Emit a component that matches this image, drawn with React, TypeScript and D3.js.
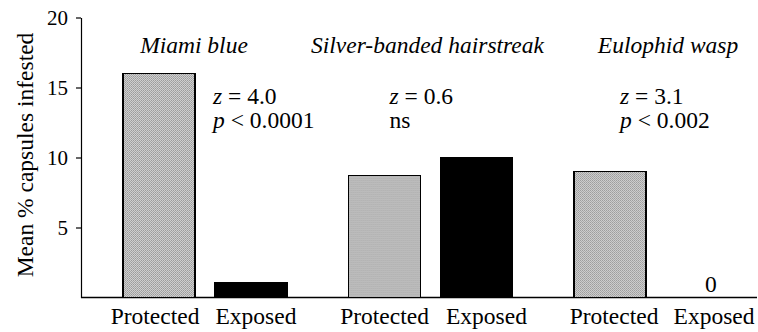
import { useEffect, useRef } from "react";
import * as d3 from "d3";

const species = ["Miami blue", "Silver-banded hairstreak", "Eulophid wasp"];
const treatments = ["Protected", "Exposed"];
const protectedVals = [16.0, 8.7, 9.0];
const exposedVals = [1.1, 10.0, 0];
const zStats = ["z = 4.0", "z = 0.6", "z = 3.1"];
const pStats = ["p < 0.0001", "ns", "p < 0.002"];
const yTicks = [5, 10, 15, 20];

// hand placement of the text, relative to each group / bar
const statOffset = [90, 41, 46];
const titleShift = [-11, -3, 12];
const labelShift = [
  [-4, 5],
  [0, 10],
  [4, 12],
];

export default function App() {
  const svgRef = useRef<SVGSVGElement>(null);

  useEffect(() => {
    const svg = d3.select(svgRef.current);
    svg.selectAll("*").remove();

    const W = 758;
    const H = 332;
    const axisX = 81;
    const fs = 23.5;
    const font = '"Liberation Serif", "DejaVu Serif", "Times New Roman", serif';

    svg.attr("width", W).attr("height", H).style("font-family", font);

    // stipple fill
    const defs = svg.append("defs");
    const pat = defs
      .append("pattern")
      .attr("id", "stipple")
      .attr("width", 2)
      .attr("height", 2)
      .attr("patternUnits", "userSpaceOnUse");
    pat.append("rect").attr("width", 2).attr("height", 2).attr("fill", "#cfcfcf");
    pat.append("rect").attr("width", 1).attr("height", 1).attr("fill", "#9c9c9c");
    pat.append("rect").attr("x", 1).attr("y", 1).attr("width", 1).attr("height", 1).attr("fill", "#a8a8a8");

    const data = species.map((s, i) => ({
      species: s,
      i,
      values: [
        { t: "Protected", v: protectedVals[i], g: i, k: 0 },
        { t: "Exposed", v: exposedVals[i], g: i, k: 1 },
      ],
    }));

    const y = d3.scaleLinear().domain([0, 20]).range([297.5, 17.5]);

    const x0 = d3
      .scaleBand()
      .domain(species)
      .range([123, 738])
      .paddingInner(0.273)
      .paddingOuter(0);

    const x1 = d3
      .scaleBand()
      .domain(treatments)
      .range([0, x0.bandwidth()])
      .paddingInner(0.217);

    // y axis
    const yAxis = svg
      .append("g")
      .attr("transform", `translate(${axisX},0)`)
      .call(d3.axisLeft(y).tickValues(yTicks).tickSize(5).tickSizeOuter(0).tickPadding(8));
    yAxis.select(".domain").attr("stroke", "#000").attr("stroke-width", 1.2);
    yAxis.selectAll(".tick line").attr("stroke", "#000").attr("stroke-width", 1.2);
    yAxis
      .selectAll(".tick text")
      .style("font-family", font)
      .attr("font-size", 21)
      .attr("fill", "#000");

    // baseline
    svg
      .append("line")
      .attr("x1", axisX)
      .attr("x2", 757)
      .attr("y1", y(0))
      .attr("y2", y(0))
      .attr("stroke", "#000")
      .attr("stroke-width", 1.4);

    const groups = svg
      .selectAll(".grp")
      .data(data)
      .enter()
      .append("g")
      .attr("class", "grp")
      .attr("transform", (d) => `translate(${x0(d.species)},0)`);

    groups
      .selectAll("rect")
      .data((d) => d.values.filter((v) => v.v > 0))
      .enter()
      .append("rect")
      .attr("x", (d) => x1(d.t)!)
      .attr("y", (d) => y(d.v))
      .attr("width", x1.bandwidth())
      .attr("height", (d) => y(0) - y(d.v))
      .attr("fill", (d) => (d.t === "Protected" ? "url(#stipple)" : "#000"))
      .attr("stroke", "#000")
      .attr("stroke-width", 1.2)
      .attr("shape-rendering", "crispEdges");

    // zero label
    groups
      .selectAll(".zero")
      .data((d) => d.values.filter((v) => v.v === 0))
      .enter()
      .append("text")
      .attr("class", "zero")
      .attr("x", (d) => x1(d.t)! + x1.bandwidth() / 2 + 9)
      .attr("y", y(0) - 6)
      .attr("text-anchor", "middle")
      .attr("font-size", fs)
      .text("0");

    // category labels
    groups
      .selectAll(".cat")
      .data((d) => d.values)
      .enter()
      .append("text")
      .attr("class", "cat")
      .attr("x", (d) => x1(d.t)! + x1.bandwidth() / 2 + labelShift[d.g][d.k])
      .attr("y", 324)
      .attr("text-anchor", "middle")
      .attr("font-size", fs)
      .text((d) => d.t);

    // species titles
    groups
      .append("text")
      .attr("x", (d) => x0.bandwidth() / 2 + titleShift[d.i])
      .attr("y", 53)
      .attr("text-anchor", "middle")
      .attr("font-style", "italic")
      .attr("font-size", fs)
      .text((d) => d.species);

    // stats
    const stat = (txt: string) => {
      const m = txt.match(/^(z|p)(.*)$/);
      return m ? [m[1], m[2]] : ["", txt];
    };
    groups.each(function (d, i) {
      const g = d3.select(this);
      [zStats[i], pStats[i]].forEach((s, k) => {
        const [it, rest] = stat(s);
        const t = g
          .append("text")
          .attr("x", statOffset[i])
          .attr("y", 104 + k * 24)
          .attr("font-size", fs);
        if (it) t.append("tspan").attr("font-style", "italic").text(it);
        t.append("tspan").text(rest);
      });
    });

    // y label
    svg
      .append("text")
      .attr("transform", `translate(33,155) rotate(-90)`)
      .attr("text-anchor", "middle")
      .attr("font-size", fs)
      .text("Mean % capsules infested");
  }, []);

  return (
    <svg
      ref={svgRef}
      style={{ position: "absolute", left: 0, top: 0, background: "#fff" }}
    />
  );
}
